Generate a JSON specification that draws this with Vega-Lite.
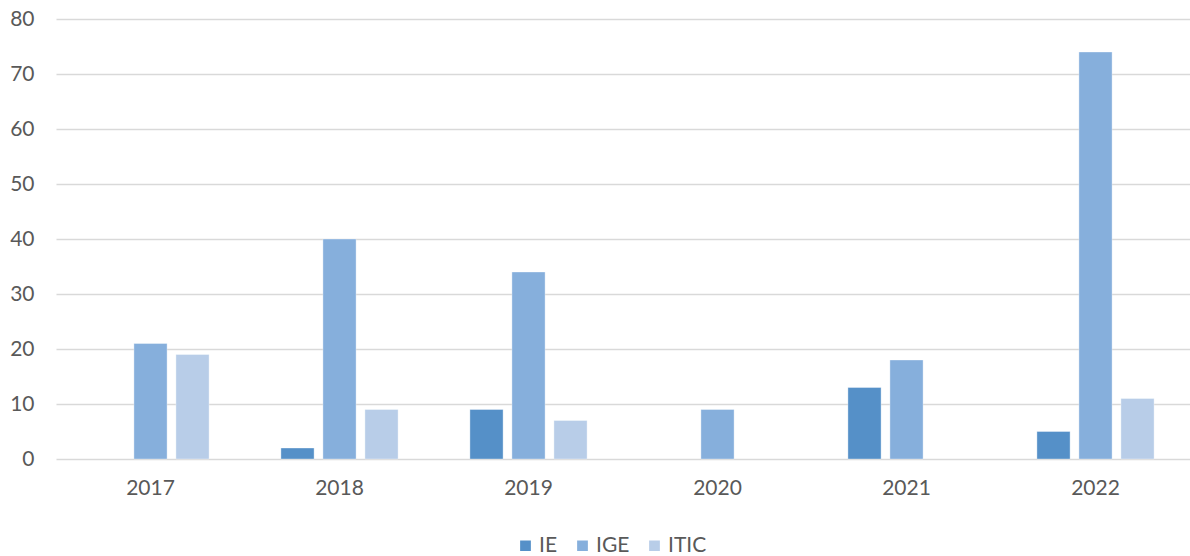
{
  "$schema": "https://vega.github.io/schema/vega-lite/v6.json",
  "width": 1134,
  "height": 440,
  "padding": {"top": 8, "left": 9, "right": 0, "bottom": 0},
  "autosize": {"type": "pad"},
  "background": "white",
  "config": {
    "view": {"stroke": null},
    "font": "Lato"
  },
  "data": {
    "values": [
      {"year": "2017", "series": "IGE", "value": 21},
      {"year": "2017", "series": "ITIC", "value": 19},
      {"year": "2018", "series": "IE", "value": 2},
      {"year": "2018", "series": "IGE", "value": 40},
      {"year": "2018", "series": "ITIC", "value": 9},
      {"year": "2019", "series": "IE", "value": 9},
      {"year": "2019", "series": "IGE", "value": 34},
      {"year": "2019", "series": "ITIC", "value": 7},
      {"year": "2020", "series": "IGE", "value": 9},
      {"year": "2021", "series": "IE", "value": 13},
      {"year": "2021", "series": "IGE", "value": 18},
      {"year": "2022", "series": "IE", "value": 5},
      {"year": "2022", "series": "IGE", "value": 74},
      {"year": "2022", "series": "ITIC", "value": 11}
    ]
  },
  "mark": {"type": "bar", "stroke": "#ffffff", "strokeOpacity": 0.35, "strokeWidth": 1},
  "encoding": {
    "x": {
      "field": "year",
      "type": "nominal",
      "scale": {"paddingInner": 0, "paddingOuter": 0},
      "axis": {
        "title": null,
        "labelAngle": 0,
        "domain": false,
        "ticks": false,
        "labelPadding": 18,
        "labelFontSize": 21,
        "labelColor": "#595959"
      }
    },
    "xOffset": {
      "field": "series",
      "type": "nominal",
      "scale": {"domain": ["IE", "IGE", "ITIC"], "paddingInner": 0.21, "paddingOuter": 0.855}
    },
    "y": {
      "field": "value",
      "type": "quantitative",
      "scale": {"domain": [0, 80], "nice": false},
      "axis": {
        "title": null,
        "values": [0, 10, 20, 30, 40, 50, 60, 70, 80],
        "domain": false,
        "ticks": false,
        "labelPadding": 22,
        "labelFontSize": 21,
        "labelColor": "#595959",
        "gridColor": "#D9D9D9",
        "gridWidth": 1.5
      }
    },
    "color": {
      "field": "series",
      "type": "nominal",
      "scale": {"domain": ["IE", "IGE", "ITIC"], "range": ["#5590C8", "#86AFDC", "#B8CDE8"]},
      "legend": {
        "title": null,
        "orient": "none",
        "legendX": 459,
        "legendY": 516,
        "direction": "horizontal",
        "symbolType": "square",
        "symbolSize": 150,
        "labelFontSize": 21,
        "labelColor": "#595959",
        "columnPadding": 14,
        "labelOffset": 3
      }
    }
  }
}
